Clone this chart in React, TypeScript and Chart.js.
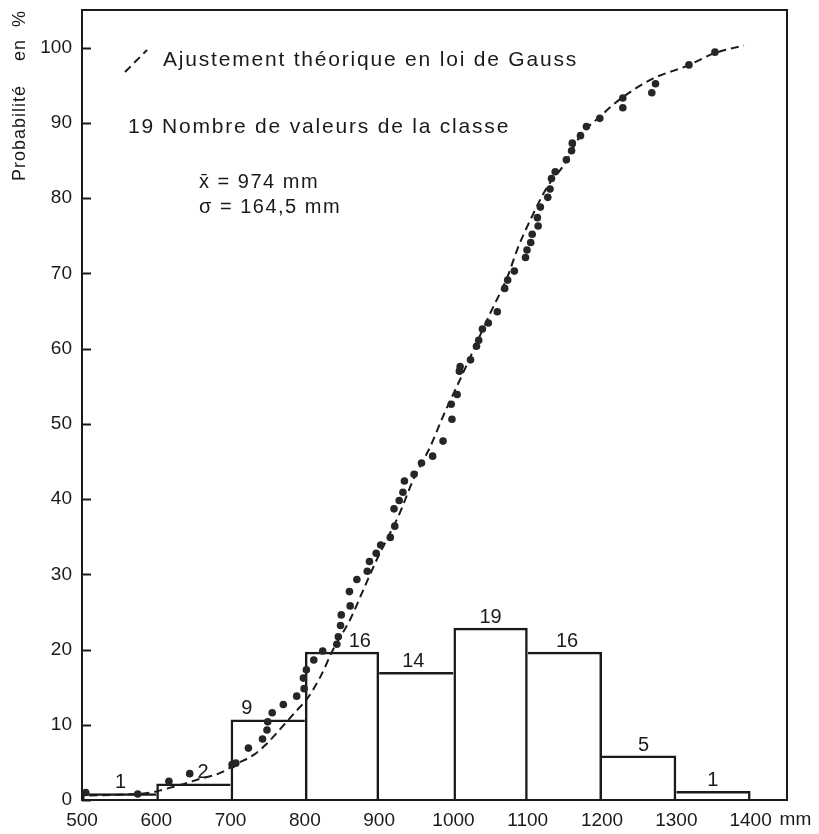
import React, { useEffect, useRef } from "react";
import { Chart, registerables } from "chart.js";

Chart.register(...registerables);

// ---------- data ----------
const xTickValues = [500, 600, 700, 800, 900, 1000, 1100, 1200, 1300, 1400];
const yTickValues = [0, 10, 20, 30, 40, 50, 60, 70, 80, 90, 100];

// histogram classes (mm) and bar heights (%)
const binCenters = [550, 650, 750, 850, 950, 1050, 1150, 1250, 1350];
const barHeights = [0.9, 2.2, 10.7, 19.7, 17.0, 22.9, 19.7, 5.9, 1.2];
const classCounts = [1, 2, 9, 16, 14, 19, 16, 5, 1];
const countLabelX = [552, 663, 722, 874, 946, 1050, 1153, 1256, 1349];

// theoretical Gauss fit (dashed curve)
const gaussX = [510, 550, 594, 610, 632, 655, 686, 708, 731, 749, 762, 790, 802, 821, 838, 861, 879, 897, 928, 946, 969, 986, 1009, 1050, 1073, 1086, 1104, 1127, 1148, 1171, 1198, 1225, 1269, 1315, 1350, 1391];
const gaussY = [0.6, 0.7, 1.0, 1.4, 2.0, 2.7, 3.6, 4.8, 6.0, 7.5, 8.9, 12.0, 13.3, 16.4, 20.0, 24.0, 28.0, 32.0, 38.2, 42.6, 47.0, 51.0, 55.9, 64.8, 69.6, 73.2, 77.2, 81.6, 84.3, 88.3, 90.9, 93.2, 95.9, 97.6, 99.2, 100.3];

// observed cumulative frequencies (dots)
const obsX = [505, 575, 617, 645, 702, 707, 724, 743, 749, 750, 756, 771, 789, 799, 798, 802, 812, 824, 843, 845, 848, 849, 861, 860, 870, 884, 887, 896, 902, 915, 921, 920, 927, 932, 934, 947, 957, 972, 986, 998, 997, 1005, 1008, 1009, 1023, 1031, 1034, 1039, 1047, 1059, 1069, 1073, 1082, 1097, 1099, 1104, 1106, 1114, 1113, 1117, 1127, 1130, 1132, 1137, 1152, 1159, 1160, 1171, 1179, 1197, 1228, 1228, 1267, 1272, 1317, 1352];
const obsY = [1.0, 0.8, 2.5, 3.5, 4.7, 4.9, 6.9, 8.1, 9.3, 10.4, 11.6, 12.7, 13.8, 14.8, 16.2, 17.3, 18.6, 19.8, 20.7, 21.7, 23.2, 24.6, 25.8, 27.7, 29.3, 30.4, 31.7, 32.8, 33.9, 34.9, 36.4, 38.7, 39.8, 40.9, 42.4, 43.3, 44.8, 45.7, 47.7, 50.6, 52.6, 53.9, 57.0, 57.6, 58.5, 60.3, 61.1, 62.6, 63.4, 64.9, 68.0, 69.1, 70.3, 72.1, 73.1, 74.1, 75.2, 76.3, 77.4, 78.8, 80.1, 81.2, 82.6, 83.5, 85.1, 86.3, 87.3, 88.3, 89.5, 90.6, 92.0, 93.3, 94.0, 95.2, 97.7, 99.4];

const yTitle = "Probabilité    en  %";
const legendFit = "Ajustement théorique en loi de Gauss";
const legendCountValue = "19";
const legendCount = "Nombre de valeurs de la classe";
const meanText = "x̄ = 974 mm";
const sigmaText = "σ = 164,5 mm";
const xUnit = "mm";

const INK = "#1a1a1a";
const FONT = "'Liberation Sans', Arial, sans-serif";

const decorPlugin = {
  id: "decor",
  afterDatasetsDraw(chart: any) {
    const { ctx, scales } = chart;
    const xs = scales.x;
    const ys = scales.y;
    ctx.save();
    ctx.fillStyle = INK;
    ctx.font = `20px ${FONT}`;
    ctx.textAlign = "center";
    ctx.textBaseline = "alphabetic";
    classCounts.forEach((c, i) => {
      const px = xs.getPixelForValue(countLabelX[i]);
      const py = ys.getPixelForValue(barHeights[i]) - 5;
      ctx.fillText(String(c), px, py);
    });
    ctx.restore();
  },
  afterDraw(chart: any) {
    const { ctx, chartArea: a, scales } = chart;
    const ys = scales.y;
    const xs = scales.x;
    ctx.save();
    ctx.strokeStyle = INK;
    ctx.fillStyle = INK;
    // frame
    ctx.lineWidth = 2;
    ctx.setLineDash([]);
    ctx.strokeRect(a.left, a.top, a.right - a.left, a.bottom - a.top);
    // inward y ticks
    yTickValues.forEach((v) => {
      const py = Math.round(ys.getPixelForValue(v)) + 0.5;
      ctx.beginPath();
      ctx.moveTo(a.left, py);
      ctx.lineTo(a.left + 9, py);
      ctx.stroke();
    });
    // unit after last x label
    ctx.font = `19px ${FONT}`;
    ctx.textAlign = "left";
    ctx.textBaseline = "middle";
    ctx.fillText(xUnit, xs.getPixelForValue(1400) + 29, a.bottom + 20);
    // y title (rotated)
    ctx.save();
    ctx.translate(20, a.top);
    ctx.rotate(-Math.PI / 2);
    ctx.font = `18px ${FONT}`;
    (ctx as any).letterSpacing = "1px";
    ctx.textAlign = "right";
    ctx.textBaseline = "middle";
    ctx.fillText(yTitle, 0, 0);
    ctx.restore();
    // legend dashed symbol
    ctx.lineWidth = 2;
    ctx.setLineDash([8, 5]);
    ctx.beginPath();
    ctx.moveTo(a.left + 43, a.top + 62);
    ctx.lineTo(a.left + 65, a.top + 40);
    ctx.stroke();
    ctx.setLineDash([]);
    // legend texts
    ctx.font = `21px ${FONT}`;
    ctx.textAlign = "left";
    ctx.textBaseline = "alphabetic";
    (ctx as any).letterSpacing = "1.8px";
    ctx.fillText(legendFit, a.left + 81, a.top + 55.5);
    ctx.fillText(legendCountValue, a.left + 46, a.top + 123);
    ctx.fillText(legendCount, a.left + 80, a.top + 123);
    (ctx as any).letterSpacing = "1.5px";
    ctx.font = `20px ${FONT}`;
    ctx.fillText(meanText, a.left + 117, a.top + 178);
    ctx.fillText(sigmaText, a.left + 117, a.top + 203);
    ctx.restore();
  },
};

export default function App() {
  const ref = useRef<HTMLCanvasElement | null>(null);

  useEffect(() => {
    if (!ref.current) return;
    Chart.defaults.font.family = FONT;
    Chart.defaults.color = INK;

    const n = barHeights.length;
    const chart = new Chart(ref.current, {
      type: "bar",
      data: {
        datasets: [
          {
            type: "line",
            label: "obs",
            data: obsX.map((x, i) => ({ x, y: obsY[i] })),
            showLine: false,
            pointRadius: 3.8,
            pointBackgroundColor: "#262626",
            pointBorderColor: "#262626",
            pointBorderWidth: 0,
            order: 0,
          } as any,
          {
            type: "line",
            label: "gauss",
            data: gaussX.map((x, i) => ({ x, y: gaussY[i] })),
            borderColor: INK,
            borderWidth: 2,
            borderDash: [8, 5],
            pointRadius: 0,
            cubicInterpolationMode: "monotone",
            fill: false,
            order: 1,
          } as any,
          {
            type: "bar",
            label: "classes",
            data: binCenters.map((x, i) => ({ x, y: barHeights[i] })),
            backgroundColor: "rgba(0,0,0,0)",
            borderColor: INK,
            borderSkipped: false,
            borderWidth: (c: any) => {
              const i = c.dataIndex;
              const h = barHeights;
              const left = i === 0 || h[i] >= h[i - 1] ? 2.5 : 0;
              const right = i === n - 1 || h[i] > h[i + 1] ? 2.5 : 0;
              return { top: 2.5, left, right, bottom: 0 };
            },
            barPercentage: 1,
            categoryPercentage: 1,
            inflateAmount: 0,
            order: 2,
          } as any,
        ],
      },
      options: {
        animation: false,
        responsive: false,
        maintainAspectRatio: false,
        devicePixelRatio: 1,
        layout: { padding: { top: 10, right: 32, left: 0, bottom: 0 } },
        plugins: {
          legend: { display: false },
          tooltip: { enabled: false },
        },
        scales: {
          x: {
            type: "linear",
            min: 500,
            max: 1449,
            offset: false,
            grid: { display: false, drawTicks: false, offset: false },
            border: { display: false },
            afterBuildTicks: (s: any) => {
              s.ticks = xTickValues.map((v) => ({ value: v }));
            },
            afterFit: (s: any) => {
              s.height = 34;
              s.paddingLeft = 0;
              s.paddingRight = 0;
            },
            ticks: {
              autoSkip: false,
              maxRotation: 0,
              padding: 9,
              color: INK,
              font: { size: 19 },
              callback: (v: any) => String(v),
            },
          },
          y: {
            type: "linear",
            min: 0,
            max: 105,
            grid: { display: false, drawTicks: false },
            border: { display: false },
            afterBuildTicks: (s: any) => {
              s.ticks = yTickValues.map((v) => ({ value: v }));
            },
            afterFit: (s: any) => {
              s.width = 82;
              s.paddingTop = 0;
              s.paddingBottom = 0;
            },
            ticks: {
              autoSkip: false,
              padding: 10,
              color: INK,
              font: { size: 19 },
              callback: (v: any) => String(v),
            },
          },
        },
      },
      plugins: [decorPlugin],
    });
    return () => chart.destroy();
  }, []);

  return (
    <div style={{ position: "absolute", left: 0, top: 0, width: 819, height: 834, background: "#fff" }}>
      <canvas ref={ref} width={819} height={834} style={{ width: 819, height: 834, display: "block" }} />
    </div>
  );
}
